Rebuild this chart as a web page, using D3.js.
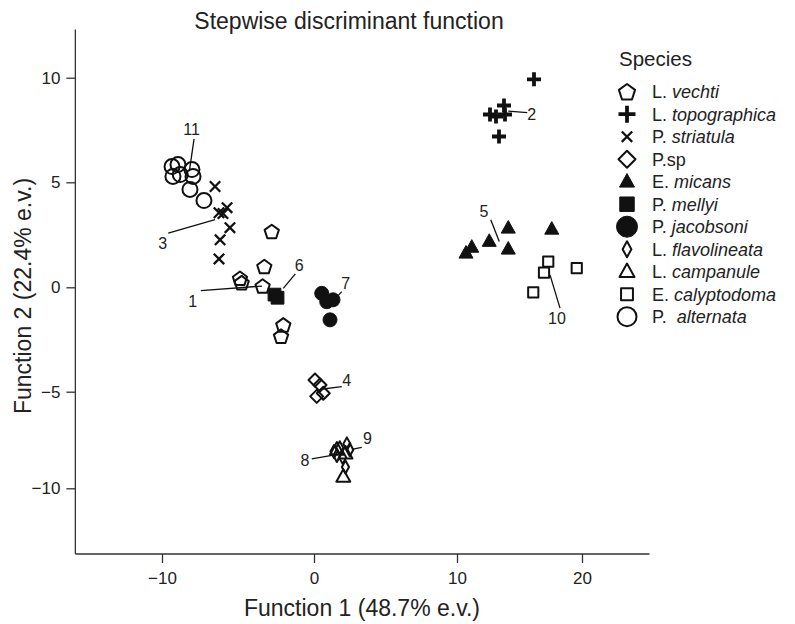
<!DOCTYPE html>
<html><head><meta charset="utf-8">
<script src="https://cdn.jsdelivr.net/npm/d3@7"></script>
<style>
body{margin:0;background:#fff}
svg{display:block;font-family:"Liberation Sans",Arial,Helvetica,sans-serif}
</style>
</head><body>
<svg id="chart" width="795" height="624"></svg>
<script>
// ---------- data ----------
const xTicks = [-10, 0, 10, 20];
const yTicks = [-10, -5, 0, 5, 10];
const xExtent = [-15.7, 25.4];
const yExtent = [-13.4, 12.3];

const vechti = [[-2.78,2.66],[-3.27,0.99],[-4.87,0.43],[-4.76,0.22],[-3.38,0.06],[-2.02,-1.8],[-2.17,-2.34]];
const topographica = [[16.16,9.92],[13.76,8.67],[12.64,8.24],[13.12,8.14],[13.84,8.24],[13.36,7.19]];
const striatula = [[-6.51,4.8],[-5.72,3.79],[-6.25,3.55],[-5.99,3.51],[-5.53,2.84],[-6.18,2.26],[-6.25,1.35]];
const psp = [[0.07,-4.44],[0.42,-4.68],[0.19,-5.24],[0.65,-5.08]];
const micans = [[14.1,2.82],[17.58,2.77],[12.58,2.19],[14.1,1.82],[11.18,1.91],[10.72,1.63]];
const mellyi = [[-2.6,-0.35],[-2.4,-0.5]];
const jacobsoni = [[0.54,-0.29],[0.89,-0.69],[1.33,-0.6],[1.12,-1.56]];
const flavolineata = [[1.4,-8.1],[1.8,-7.9],[2.3,-7.7],[2.0,-8.4],[2.5,-8.0],[1.6,-8.3],[2.2,-8.9]];
const campanule = [[2.05,-9.4],[1.6,-8.0],[2.2,-8.2]];
const calyptodoma = [[17.3,1.22],[16.96,0.7],[19.58,0.91],[16.1,-0.24]];
const alternata = [[-9.34,5.75],[-8.95,5.85],[-9.28,5.28],[-8.8,5.37],[-8.03,5.61],[-7.96,5.28],[-8.16,4.66],[-7.24,4.13]];

const speciesPrefix = ["L.","L.","P.","P.sp","E.","P.","P.","L.","L.","E.","P. "];
const speciesEpithet = ["vechti","topographica","striatula","","micans","mellyi","jacobsoni","flavolineata","campanule","calyptodoma","alternata"];
const speciesData = [vechti, topographica, striatula, psp, micans, mellyi, jacobsoni, flavolineata, campanule, calyptodoma, alternata];
const speciesShape = ["pentagon","plus","times","diamond","triangle","square","circle","narrow","triangle","square","circle"];
const speciesFilled = [false,true,false,false,true,true,true,false,false,false,false];

// group labels: text, label position, leader line start/end (data units)
const annLabels = ["11","3","1","6","7","4","8","9","2","5","10"];
const annText = [[-8.05,7.53],[-9.95,2.1],[-7.98,-0.69],[-0.97,1.07],[2.22,0.19],[2.29,-4.44],[-0.59,-8.54],[3.73,-7.41],[15.98,8.24],[12.16,3.62],[18.0,-1.47]];
const annFrom = [[-7.89,7.08],[-9.59,2.58],[-7.45,-0.16],[-1.23,0.64],[1.94,-0.21],[1.94,-4.76],[-0.15,-8.48],[3.34,-7.88],[15.62,8.33],[12.7,3.22],[17.44,0.59]];
const annTo = [[-8.2,5.53],[-6.51,3.22],[-3.42,0.06],[-2.02,-0.05],[1.54,-0.51],[0.63,-4.87],[1.35,-8.28],[2.64,-7.98],[14.1,8.4],[13.38,2.18],[18.24,-1.0]];

// ---------- scales ----------
const svg = d3.select("#chart");
const x = d3.scaleLinear().domain(xTicks).range([162, 314, 457, 582]);
const y = d3.scaleLinear().domain(yTicks).range([488.3, 391.7, 287.3, 182.3, 77.7]);
const ink = "#111";

// ---------- symbols ----------
function shapePath(shape, s) {
  const r = s / 2;
  switch (shape) {
    case "pentagon": {
      const p = d3.range(5).map(k => { const a = -Math.PI/2 + k*2*Math.PI/5; return [r*Math.cos(a), r*Math.sin(a) + r*0.1]; });
      return "M" + p.map(d => d.join(",")).join("L") + "Z";
    }
    case "plus": return `M${-r},0H${r}M0,${-r}V${r}`;
    case "times": { const q = r*0.8; return `M${-q},${-q}L${q},${q}M${-q},${q}L${q},${-q}`; }
    case "diamond": return `M0,${-r}L${r},0L0,${r}L${-r},0Z`;
    case "narrow": return `M0,${-r}L${r*0.55},0L0,${r}L${-r*0.55},0Z`;
    case "triangle": { const h = s*0.9; return `M0,${-h*0.6}L${r},${h*0.4}L${-r},${h*0.4}Z`; }
    case "square": { const q = r*0.85; return `M${-q},${-q}H${q}V${q}H${-q}Z`; }
    case "circle": return `M${r},0A${r},${r} 0 1,1 ${-r},0A${r},${r} 0 1,1 ${r},0Z`;
  }
}
function strokeW(shape) {
  if (shape === "plus") return 3.8;
  if (shape === "times") return 2.3;
  return 2;
}

// ---------- axes ----------
const fmt = d => d < 0 ? "\u2212" + Math.abs(d) : d;
const xAxisG = svg.append("g").attr("transform", `translate(0,${y(yExtent[0])})`)
  .call(d3.axisBottom(x).tickValues(xTicks).tickSize(9).tickPadding(6).tickFormat(fmt));
xAxisG.select(".domain").attr("d", `M${x(xExtent[0])},0H${x(xExtent[1])}`);
const yAxisG = svg.append("g").attr("transform", `translate(${x(xExtent[0])},0)`)
  .call(d3.axisLeft(y).tickValues(yTicks).tickSize(9).tickPadding(6).tickFormat(fmt));
yAxisG.select(".domain").attr("d", `M0,${y(yExtent[1])}V${y(yExtent[0])}`);
svg.selectAll(".domain, .tick line").attr("stroke", "#333").attr("stroke-width", 1.3);
svg.selectAll(".tick text").attr("font-size", 17).attr("fill", "#222")
  .attr("font-family", '"Liberation Sans",Arial,sans-serif');
xAxisG.selectAll(".tick text").attr("dy", "0.9em");

// ---------- titles ----------
svg.append("text").attr("x", 349).attr("y", 29).attr("text-anchor", "middle")
  .attr("font-size", 23).attr("fill", "#222").text("Stepwise discriminant function");
svg.append("text").attr("x", 362).attr("y", 616).attr("text-anchor", "middle")
  .attr("font-size", 23).attr("fill", "#222").text("Function 1 (48.7% e.v.)");
svg.append("text").attr("transform", "translate(31,296) rotate(-90)").attr("text-anchor", "middle")
  .attr("font-size", 23).attr("fill", "#222").text("Function 2 (22.4% e.v.)");

// ---------- points ----------
const pointSize = {pentagon:15, plus:14, times:13, diamond:13, narrow:13, triangle:14, square:12, circle:15};
speciesData.forEach((arr, i) => {
  const shape = speciesShape[i], filled = speciesFilled[i];
  let size = pointSize[shape];
  if (shape === "square" && filled) size = 15;
  if (shape === "circle" && filled) size = 14;
  svg.append("g").selectAll("path").data(arr).join("path")
    .attr("transform", d => `translate(${x(d[0])},${y(d[1])})`)
    .attr("d", shapePath(shape, size))
    .attr("fill", filled && shape !== "plus" ? ink : "none")
    .attr("stroke", ink)
    .attr("stroke-width", filled && shape !== "plus" ? 1 : strokeW(shape))
    .attr("stroke-linejoin", "round");
});

// ---------- group labels ----------
annLabels.forEach((t, i) => {
  svg.append("line")
    .attr("x1", x(annFrom[i][0])).attr("y1", y(annFrom[i][1]))
    .attr("x2", x(annTo[i][0])).attr("y2", y(annTo[i][1]))
    .attr("stroke", ink).attr("stroke-width", 1.3);
  svg.append("text").attr("x", x(annText[i][0])).attr("y", y(annText[i][1]))
    .attr("text-anchor", "middle").attr("dy", "0.36em")
    .attr("font-size", 16).attr("fill", "#222").text(t);
});

// ---------- legend ----------
const legend = svg.append("g");
legend.append("text").attr("x", 619).attr("y", 66).attr("font-size", 20.5).attr("fill", "#222").text("Species");
const legendSize = {pentagon:17, plus:17, times:13, diamond:17, narrow:16, triangle:15, square:14, circle:19};
speciesPrefix.forEach((p, i) => {
  const cy = 91.7 + i * 22.5;
  const shape = speciesShape[i], filled = speciesFilled[i];
  let size = legendSize[shape];
  if (shape === "square" && filled) size = 17;
  if (shape === "circle" && filled) size = 21;
  legend.append("path").attr("transform", `translate(627,${cy})`)
    .attr("d", shapePath(shape, size))
    .attr("fill", filled && shape !== "plus" ? ink : "none")
    .attr("stroke", ink)
    .attr("stroke-width", filled && shape !== "plus" ? 1 : strokeW(shape))
    .attr("stroke-linejoin", "round");
  const t = legend.append("text").attr("x", 652).attr("y", cy + 6.5)
    .attr("font-size", 18).attr("fill", "#222").attr("xml:space", "preserve")
    .style("white-space", "pre");
  t.append("tspan").text(p);
  if (speciesEpithet[i]) t.append("tspan").attr("font-style", "italic").text(" " + speciesEpithet[i]);
});
</script>
</body></html>
